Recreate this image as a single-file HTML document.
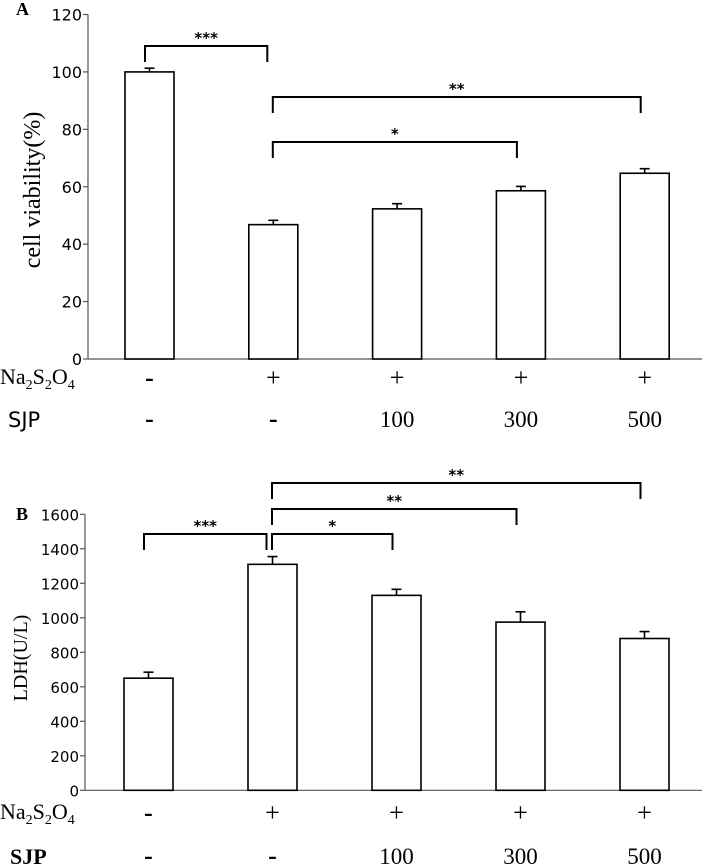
<!DOCTYPE html>
<html><head><meta charset="utf-8"><style>
body{margin:0;background:#fff;}
svg{display:block;}
.tk{font-family:"DejaVu Sans","Liberation Sans",sans-serif;}
.sr{font-family:"Liberation Serif",serif;}
</style></head><body>
<svg id="c" width="708" height="867" xmlns="http://www.w3.org/2000/svg"></svg>
<script>
const groups = ["1","2","3","4","5"];
const naLabels = ["-","+","+","+","+"];
const sjpLabels = ["-","-","100","300","500"];
const viability = [100, 46.8, 52.3, 58.6, 64.7];
const viabilityErr = [1.3, 1.5, 1.8, 1.5, 1.6];
const ldh = [650, 1310, 1130, 975, 880];
const ldhErr = [35, 45, 35, 60, 40];
const ticksA = [0,20,40,60,80,100,120];
const ticksB = [0,200,400,600,800,1000,1200,1400,1600];
const sigA = [[0,1,"***",46],[1,4,"**",97],[1,3,"*",142]];
const sigB = [[0,1,"***",534],[1,2,"*",534],[1,3,"**",509],[1,4,"**",483]];

const svg=document.getElementById('c');
const NS="http://www.w3.org/2000/svg";
function mk(tag,attrs,parent){const e=document.createElementNS(NS,tag);for(const k in attrs)e.setAttribute(k,attrs[k]);(parent||svg).appendChild(e);return e;}

function panel(o){
  const g=mk('g',{});
  
  
  const y=v=>o.y0-(v-o.min)/(o.max-o.min)*(o.y0-o.y1);
  const xc=i=>o.x0+i*o.step;
  const ax=mk('line',{x1:o.ax,y1:o.y1,x2:o.ax,y2:o.y0,stroke:'#555','stroke-width':1.2},g);
  
  
  const bx=mk('line',{x1:o.ax,y1:o.y0,x2:702,y2:o.y0,stroke:'#555','stroke-width':1.2},g);
  
  
  o.ticks.forEach(t=>{
    const l=mk('line',{x1:o.ax-5,y1:y(t),x2:o.ax,y2:y(t),stroke:'#555','stroke-width':1.2},g);
    
    
    const tx=mk('text',{x:o.ax-6,y:y(t)+6,'text-anchor':'end',class:'tk','font-size':o.tkfs},g);
    
    
    tx.textContent=t;
  });
  o.vals.forEach((v,i)=>{
    const c=xc(i),top=y(v),et=y(v+o.err[i]);
    const r=mk('rect',{x:c-24.5,y:top,width:49,height:o.y0-top,fill:'#fff',stroke:'#000','stroke-width':1.6},g);
    
    
    const e=mk('path',{d:`M${c} ${top}V${et}M${c-5} ${et}H${c+5}`,stroke:'#000','stroke-width':1.6,fill:'none'},g);
    
    
    const n=mk('text',{x:c,y:o.rowNa,'text-anchor':'middle',class:'sr','font-size':26,'font-weight':naLabels[i]==='-'?'bold':'normal'},g);
    
    
    n.textContent=naLabels[i];
    const s=mk('text',{x:c,y:o.rowSjp,'text-anchor':'middle',class:'sr','font-size':sjpLabels[i]==='-'?26:23,'font-weight':sjpLabels[i]==='-'?'bold':'normal'},g);
    
    
    s.textContent=sjpLabels[i];
  });
  o.sig.forEach(s=>{
    const a=xc(s[0])-4.5+(s[0]===1?4:0),b=xc(s[1])-(s[1]===1?6:4),yy=s[3];
    const p=mk('path',{d:`M${a} ${yy+16}V${yy}H${b}V${yy+16}`,stroke:'#000','stroke-width':2,fill:'none'},g);
    
    
    const t=mk('text',{x:(a+b)/2,y:yy-3,'text-anchor':'middle',class:'tk','font-size':15,'font-weight':'bold'},g);
    
    
    t.textContent=s[2];
  });
  const lab=mk('text',{x:o.lx,y:o.ly,'font-family':'Liberation Serif,serif','font-weight':'bold','font-size':18},g);
  
  
  lab.textContent=o.letter;
  const yt=mk('text',{transform:`translate(${o.tx},${o.ty}) rotate(-90)`,'text-anchor':'middle',class:'sr','font-size':o.tfs},g);
  
  
  yt.textContent=o.title;
  const na=mk('text',{x:0,y:o.rowNa-2,class:'sr','font-size':22},g);
  
  
  na.innerHTML='Na<tspan font-size="14" dy="5">2</tspan><tspan dy="-5">S</tspan><tspan font-size="14" dy="5">2</tspan><tspan dy="-5">O</tspan><tspan font-size="14" dy="5">4</tspan>';
  const sj=mk('text',{x:o.sjx,y:o.rowSjp,class:o.sjcls,'font-size':o.sjfs,'font-weight':o.sjw},g);
  
  
  sj.textContent='SJP';
}
panel({name:'panel-a',letter:'A',lx:16,ly:15,min:0,max:120,y0:359,y1:14.5,ax:88,x0:149.5,step:123.8,vals:viability,err:viabilityErr,ticks:ticksA,sig:sigA,rowNa:386,rowSjp:427,tkfs:16,title:'cell viability(%)',tx:40,ty:190,tfs:24,sjx:8,sjcls:'tk',sjfs:21,sjw:'normal'});
panel({name:'panel-b',letter:'B',lx:16,ly:520,min:0,max:1600,y0:790.3,y1:514.3,ax:85,x0:148.5,step:124,vals:ldh,err:ldhErr,ticks:ticksB,sig:sigB,rowNa:821,rowSjp:864,tkfs:15,title:'LDH(U/L)',tx:27,ty:658,tfs:20,sjx:10,sjcls:'sr',sjfs:22,sjw:'bold'});
</script>
</body></html>
